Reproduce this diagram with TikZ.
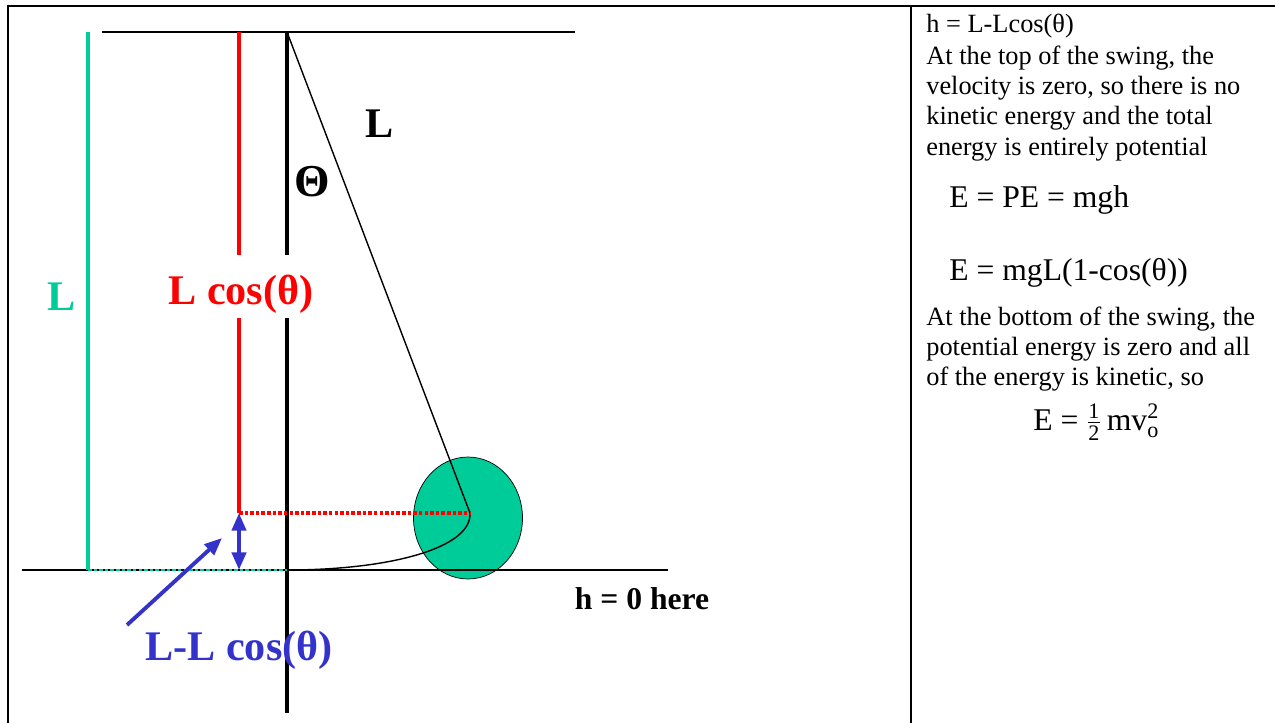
\documentclass[tikz,border=0pt]{standalone}
\usepackage{amsmath}
\usepackage{fontspec}
\setmainfont{Liberation Serif}
\usetikzlibrary{arrows.meta, positioning, shapes.geometric}
\definecolor{bobgreen}{RGB}{0,204,153}
\definecolor{hblue}{RGB}{51,51,204}

\begin{document}
\begin{tikzpicture}[
    x=0.02cm, y=-0.02cm,
    frame/.style={line width=1.3pt},
    rule/.style={line width=0.8pt},
    bar/.style={line width=2.2pt},
    dotline/.style={line width=2pt, dash pattern=on 2pt off 1.2pt},
    blab/.style={font=\fontsize{24}{28}\selectfont\bfseries, inner sep=0pt, anchor=base},
    txt/.style={font=\fontsize{15}{18}\selectfont, inner sep=0pt, anchor=base west},
    eq/.style={font=\fontsize{18}{21}\selectfont, inner sep=0pt, anchor=base west},
    barr/.style={hblue, line width=2.2pt, -{Triangle[length=10pt, width=8pt]}}
]
\useasboundingbox (0,0) rectangle (1275,723);

% table frame
\draw[frame] (8,723) -- (8,6) -- (1275,6);
\draw[frame] (911,6) -- (911,723);

% fixed points of the pendulum
\coordinate (pivot)  at (287,32);
\coordinate (low)    at (287,570);
\coordinate (top)    at (470,513);
\coordinate (redtop) at (239,32);
\coordinate (redlow) at (239,513);
\coordinate (hbase)  at (239,570);
\coordinate (grtop)  at (88,32);
\coordinate (grlow)  at (88,570);
\coordinate (tail)   at (127,625);
\coordinate (head)   at (222,538);

% bob
\node[ellipse, draw, fill=bobgreen, minimum width=2.18cm, minimum height=2.44cm,
      inner sep=0pt] (bob) at (468,518) {};

% ceiling, ground and verticals
\draw[rule] (102,32) -- (575,32);
\draw[rule] (22,570) -- (668,570);
\draw[bar] (pivot) -- (287,713);
\draw[bar, red] (redtop) -- (redlow);
\draw[bar, bobgreen] (grtop) -- (grlow);

% string and swing path
\draw[line width=0.8pt] (pivot) -- (top);
\draw[line width=0.8pt] (low) .. controls (390,570) and (472,548) .. (top);

% dotted levels
\draw[dotline, red] (redlow) -- (top);
\draw[dotline, bobgreen, line width=1.5pt] (grlow) -- (low);

% height arrows
\draw[barr, {Triangle[length=10pt, width=8pt]}-{Triangle[length=10pt, width=8pt]}] (redlow) -- (hbase);
\draw[barr] (tail) -- (head);

% labels
\node[blab, bobgreen] (lgreen) at (62,310) {L};
\node[blab, red, fill=white, text height=23pt, text depth=3pt, inner xsep=3pt, inner ysep=5pt]
    (lcos) at (241,304) {L cos(θ)};
\node[blab] (lstring) at (380,137) {L};
\node[blab, font=\fontsize{26}{30}\selectfont\bfseries] (ltheta) at (312,196) {Θ};
\node[blab, hblue] (ldiff) at (239,660) {L-L cos(θ)};
\node[blab, font=\fontsize{18}{21}\selectfont\bfseries] (lzero) at (642,609) {h = 0 here};

% energy notes
\foreach \n/\y/\t in {1/33/{h = L-Lcos(θ)},
                      2/65/{At the top of the swing, the},
                      3/95/{velocity is zero, so there is no},
                      4/125/{kinetic energy and the total},
                      5/155/{energy is entirely potential},
                      6/325/{At the bottom of the swing, the},
                      7/355/{potential energy is zero and all},
                      8/385/{of the energy is kinetic, so}}
  \node[txt] (note\n) at (926,\y) {\t};

\node[eq] (epe)  at (949,207) {E = PE = mgh};
\node[eq] (emgl) at (949,280) {E = mgL(1-cos(θ))};
\node[eq] (ekin) at (1033,430) {E = $\frac{\text{1}}{\text{2}}$\,mv$^{\text{2}}_{\text{o}}$};

\end{tikzpicture}
\end{document}
